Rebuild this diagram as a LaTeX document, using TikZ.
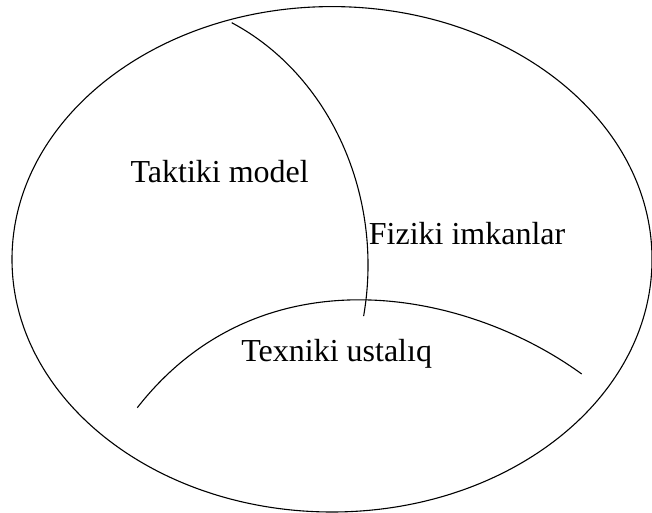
\documentclass[tikz,border=0pt]{standalone}
\usepackage{fontspec}
\setmainfont{Liberation Serif}
\usepackage{tikz}
\usetikzlibrary{positioning}

\begin{document}
\begin{tikzpicture}[x=1pt,y=1pt,line width=1.1pt,
  lbl/.style={anchor=base west,inner sep=0pt,font=\fontsize{32}{38}\selectfont}]
\useasboundingbox (0,0) rectangle (652,513);
\draw (332,253.7) ellipse [x radius=320,y radius=252.7];
\draw (231.7,490.3) arc[start angle=64.7,end angle=-11,x radius=238,y radius=268];
\draw (137.3,105.3) .. controls (260.6,263.1) and (464.9,223.9) .. (581.7,139);
\node[lbl] (tak) at (130,330.3) {Taktiki model};
\node[lbl] (fiz) at (368.3,268) {Fiziki imkanlar};
\node[lbl] (tex) at (240.8,151.3) {Texniki ustalıq};
\end{tikzpicture}
\end{document}
